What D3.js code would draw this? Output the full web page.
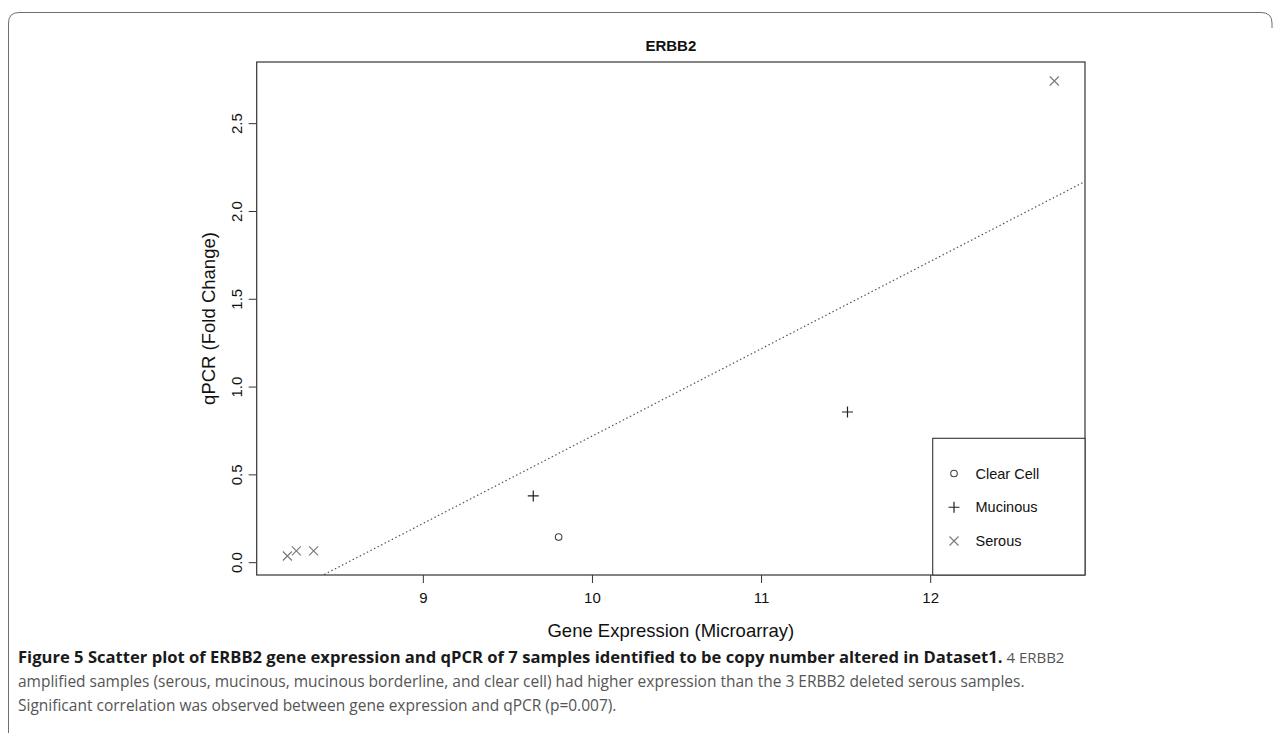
<!DOCTYPE html>
<html>
<head>
<meta charset="utf-8">
<script src="https://cdn.jsdelivr.net/npm/d3@7"></script>
<style>
  body { margin: 0; background: #fff; }
  svg { display: block; }
</style>
</head>
<body>
<svg id="fig" width="1274" height="733"></svg>
<script>
// sample values
const sampleType = ["Serous", "Serous", "Serous", "Serous", "Mucinous", "Mucinous", "Clear Cell"]
const geneExpr = [8.199, 8.252, 8.354, 12.734, 9.653, 11.511, 9.803]
const qpcr = [0.038, 0.067, 0.067, 2.743, 0.380, 0.858, 0.146]

const legendTypes = ["Clear Cell", "Mucinous", "Serous"]
const xTicks = [9, 10, 11, 12]
const yTicks = [0, 0.5, 1.0, 1.5, 2.0, 2.5]

const captionBold = "Figure 5 Scatter plot of ERBB2 gene expression and qPCR of 7 samples identified to be copy number altered in Dataset1."
const captionLines = [
    " 4 ERBB2",
    "amplified samples (serous, mucinous, mucinous borderline, and clear cell) had higher expression than the 3 ERBB2 deleted serous samples.",
    "Significant correlation was observed between gene expression and qPCR (p=0.007)."
]

const svg = d3.select("#fig")
const plot = { left: 256.7, right: 1085, top: 62, bottom: 575 }
const font = "'Liberation Sans', Arial, sans-serif"

// R style 4% axis extension
function padExt(v) {
    const e = d3.extent(v)
    const p = (e[1] - e[0]) * 0.04
    return [e[0] - p, e[1] + p]
}
const x = d3.scaleLinear().domain(padExt(geneExpr)).range([plot.left, plot.right])
const y = d3.scaleLinear().domain(padExt(qpcr)).range([plot.bottom, plot.top])

// outer figure frame (rounded corners)
svg.append("path")
    .attr("d", "M8.5,733 V23 Q8.5,12.5 19,12.5 H1261 Q1272,12.5 1272,23 V28")
    .attr("fill", "none").attr("stroke", "#6f6f6f").attr("stroke-width", 1)

// clip for the fit line
svg.append("clipPath").attr("id", "clip")
    .append("rect")
    .attr("x", plot.left).attr("y", plot.top)
    .attr("width", plot.right - plot.left).attr("height", plot.bottom - plot.top)

// least squares fit
const mx = d3.mean(geneExpr), my = d3.mean(qpcr)
let sxy = 0, sxx = 0
geneExpr.forEach((v, i) => { sxy += (v - mx) * (qpcr[i] - my); sxx += (v - mx) * (v - mx) })
const slope = sxy / sxx
const icpt = my - slope * mx
const xd = x.domain()
svg.append("line")
    .attr("clip-path", "url(#clip)")
    .attr("x1", x(xd[0])).attr("y1", y(icpt + slope * xd[0]))
    .attr("x2", x(xd[1])).attr("y2", y(icpt + slope * xd[1]))
    .attr("stroke", "#555").attr("stroke-width", 1.2)
    .attr("stroke-dasharray", "1.5,2.5")

// axes
const xAxis = svg.append("g")
    .attr("transform", `translate(0,${plot.bottom})`)
    .call(d3.axisBottom(x).tickValues(xTicks).tickSize(8).tickSizeOuter(0).tickFormat(d3.format("d")))
const yAxis = svg.append("g")
    .attr("transform", `translate(${plot.left},0)`)
    .call(d3.axisLeft(y).tickValues(yTicks).tickSize(8).tickSizeOuter(0).tickFormat(d3.format(".1f")))
;[xAxis, yAxis].forEach(a => {
    a.select(".domain").remove()
    a.selectAll("line").attr("stroke", "#333")
    a.selectAll("text").attr("font-family", font).attr("font-size", "15px").attr("fill", "#111")
})
xAxis.selectAll("text").attr("dy", "1.1em")
yAxis.selectAll("text")
    .attr("text-anchor", "middle")
    .attr("x", null).attr("dy", null)
    .attr("transform", d => `translate(-15,${y(d)}) rotate(-90)`)
    .attr("y", 0)
yAxis.selectAll(".tick").attr("transform", null)
yAxis.selectAll(".tick line").attr("transform", d => `translate(0,${y(d)})`)

// plot box
svg.append("rect")
    .attr("x", plot.left).attr("y", plot.top)
    .attr("width", plot.right - plot.left).attr("height", plot.bottom - plot.top)
    .attr("fill", "none").attr("stroke", "#333").attr("stroke-width", 1.2)

// symbols
function drawSymbol(g, type, cx, cy) {
    if (type === "Clear Cell") {
        g.append("circle").attr("cx", cx).attr("cy", cy).attr("r", 3.3)
            .attr("fill", "none").attr("stroke", "#444").attr("stroke-width", 1.1)
    } else if (type === "Mucinous") {
        const s = 5.5
        g.append("path").attr("d", `M${cx - s},${cy}H${cx + s}M${cx},${cy - s}V${cy + s}`)
            .attr("stroke", "#222").attr("stroke-width", 1.2)
    } else {
        const s = 4.5
        g.append("path").attr("d", `M${cx - s},${cy - s}L${cx + s},${cy + s}M${cx - s},${cy + s}L${cx + s},${cy - s}`)
            .attr("stroke", "#777").attr("stroke-width", 1.1)
    }
}
const pts = svg.append("g")
geneExpr.forEach((v, i) => drawSymbol(pts, sampleType[i], x(v), y(qpcr[i])))

// legend (bottom right)
const leg = { left: 932.7, top: 438.3 }
svg.append("rect")
    .attr("x", leg.left).attr("y", leg.top)
    .attr("width", plot.right - leg.left).attr("height", plot.bottom - leg.top)
    .attr("fill", "#fff").attr("stroke", "#333").attr("stroke-width", 1.1)
const ly = d3.scalePoint().domain(legendTypes).range([473.5, 541])
legendTypes.forEach(t => {
    drawSymbol(svg, t, 954, ly(t))
    svg.append("text").text(t)
        .attr("x", 975.5).attr("y", ly(t)).attr("dy", "0.35em")
        .attr("font-family", font).attr("font-size", "14.5px").attr("fill", "#111")
})

// titles
svg.append("text").text("ERBB2")
    .attr("x", (plot.left + plot.right) / 2).attr("y", 51)
    .attr("text-anchor", "middle").attr("font-family", font)
    .attr("font-size", "15px").attr("font-weight", "bold").attr("fill", "#111")
svg.append("text").text("Gene Expression (Microarray)")
    .attr("x", (plot.left + plot.right) / 2).attr("y", 637)
    .attr("text-anchor", "middle").attr("font-family", font)
    .attr("font-size", "18.5px").attr("fill", "#111")
svg.append("text").text("qPCR (Fold Change)")
    .attr("transform", `translate(215,${(plot.top + plot.bottom) / 2}) rotate(-90)`)
    .attr("text-anchor", "middle").attr("font-family", font)
    .attr("font-size", "18.5px").attr("fill", "#111")

// caption
const capFont = "'Open Sans', 'Noto Sans', sans-serif"
const cap1 = svg.append("text").attr("x", 18).attr("y", 663)
    .attr("font-family", capFont)
cap1.append("tspan").text(captionBold).attr("font-weight", "bold")
    .attr("font-size", "16.6px").attr("fill", "#1a1a1a")
cap1.append("tspan").text(captionLines[0]).attr("font-size", "15px").attr("fill", "#555")
captionLines.slice(1).forEach((t, i) => {
    svg.append("text").text(t)
        .attr("x", 18).attr("y", 687 + i * 23.5)
        .attr("font-family", capFont).attr("font-size", "15.5px").attr("fill", "#555")
})
</script>
</body>
</html>
